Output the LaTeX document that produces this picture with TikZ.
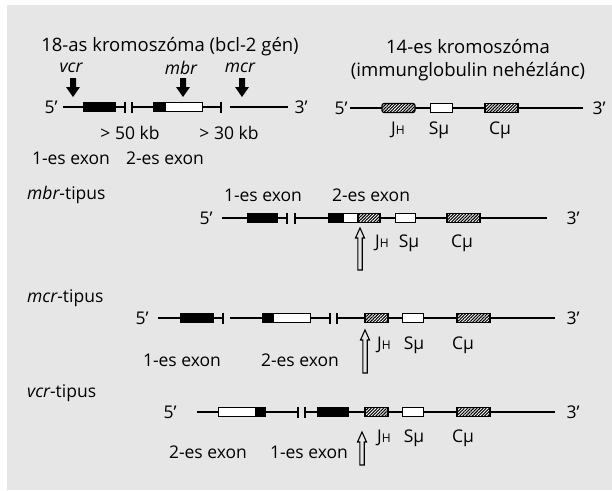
\documentclass[tikz,border=0pt]{standalone}
\usepackage{fontspec}
\setmainfont{Open Sans}
\usetikzlibrary{patterns.meta}
\definecolor{bggray}{HTML}{E6E6E6}
\tikzset{
  lbl/.style={inner sep=0pt, font=\fontsize{17.5}{20}\selectfont},
  ttl/.style={inner sep=0pt, font=\fontsize{18.5}{21}\selectfont},
  dna/.style={line width=2.3pt},
  thindna/.style={line width=1.4pt},
  tickst/.style={line width=1.4pt},
  blackex/.style={draw=black, fill=black, line width=1pt},
  whiteex/.style={draw=black, fill=white, line width=1pt},
  hatchex/.style={draw=black, line width=1.1pt, preaction={fill=white},
    pattern={Lines[angle=45,distance=2.2pt,line width=1.1pt]}},
  openarrow/.style={draw=black, fill=bggray, line width=1.1pt, line join=miter},
  blackarrow/.style={fill=black},
}
\newcommand\myexon[4]{\draw[#1] (#2,#4-4.5) rectangle (#3,#4+4.5);}
\newcommand\mytick[2]{\draw[tickst] (#1,#2-5.5) -- (#1,#2+5.5);}
\newcommand\myuparrow[3]{\draw[openarrow] (#1,#2) -- (#1+4.5,#2+10) -- (#1+2.2,#2+10) -- (#1+2.2,#3) -- (#1-2.2,#3) -- (#1-2.2,#2+10) -- (#1-4.5,#2+10) -- cycle;}
\newcommand\mydownarrow[2]{\fill[blackarrow] (#1-3,#2) -- (#1+3,#2) -- (#1+3,#2+9) -- (#1+7,#2+9) -- (#1,#2+19) -- (#1-7,#2+9) -- (#1-3,#2+9) -- cycle;}
\newcommand\JH{J{\fontsize{12}{13}\selectfont H}}
\begin{document}
\begin{tikzpicture}[x=1pt,y=-1pt]
\useasboundingbox (0,0) rectangle (612,490);
\fill[white] (0,0) rectangle (612,490);
\fill[bggray] (7,5) rectangle (612,490);

% ---------- chromosome 18 ----------
\node[ttl] (t18) at (170,47) {18-as kromoszóma (bcl-2 gén)};
\node[lbl] (lvcr) at (71,68) {\itshape vcr};
\node[lbl] (lmbr) at (181,68) {\itshape mbr};
\node[lbl] (lmcr) at (240,68) {\itshape mcr};
\mydownarrow{73}{78}
\mydownarrow{183}{78}
\mydownarrow{242}{78}
\node[lbl] (a5) at (51,107) {5’};
\node[lbl] (a3) at (301,107) {3’};
\draw[dna] (63,107) -- (125,107);
\myexon{blackex}{83}{115}{107}
\mytick{125}{107}
\mytick{132}{107}
\draw[dna] (132,107) -- (221,107);
\myexon{blackex}{153}{165}{107}
\myexon{whiteex}{165}{202}{107}
\mytick{221}{107}
\draw[line width=2.8pt] (230,107) -- (248,107);
\draw[thindna] (248,107) -- (280,107);
\draw[line width=2.8pt] (280,107) -- (288,107);
\node[lbl] (kb50) at (130,133) {> 50 kb};
\node[lbl] (kb30) at (229,133) {> 30 kb};
\node[lbl] (ex1a) at (71,158) {1-es exon};
\node[lbl] (ex2a) at (165,158) {2-es exon};

% ---------- chromosome 14 ----------
\node[ttl] (t14a) at (468,47) {14-es kromoszóma};
\node[ttl] (t14b) at (468,72) {(immunglobulin nehézlánc)};
\node[lbl] (b5) at (341,108) {5’};
\node[lbl] (b3) at (599,108) {3’};
\draw[thindna] (350,108) -- (500,108);
\draw[line width=2.8pt] (500,108) -- (583,108);
\draw[hatchex, rounded corners=2pt] (382,103.5) rectangle (415,112.5);
\myexon{whiteex}{430}{452}{108}
\myexon{hatchex}{485}{518}{108}
\node[lbl] (bJ) at (398,130) {\JH};
\node[lbl] (bS) at (439,130) {Sμ};
\node[lbl] (bC) at (500,130) {Cμ};

% ---------- mbr type ----------
\node[lbl, anchor=west] (tmbr) at (27,195) {\itshape mbr\upshape-tipus};
\node[lbl] (ex1b) at (263,195) {1-es exon};
\node[lbl] (ex2b) at (371,195) {2-es exon};
\node[lbl] (c5) at (206,218) {5’};
\node[lbl] (c3) at (573,218) {3’};
\draw[dna] (222,218) -- (287,218);
\myexon{blackex}{247}{277}{218}
\mytick{287}{218}
\mytick{295}{218}
\draw[dna] (295,218) -- (547,218);
\myexon{blackex}{328}{343}{218}
\myexon{whiteex}{343}{358}{218}
\myexon{hatchex}{358}{380}{218}
\myexon{whiteex}{395}{415}{218}
\myexon{hatchex}{447}{480}{218}
\myuparrow{360}{228}{270}
\node[lbl] (cJ) at (382,243) {\JH};
\node[lbl] (cS) at (409,243) {Sμ};
\node[lbl] (cC) at (462,243) {Cμ};

% ---------- mcr type ----------
\node[lbl, anchor=west] (tmcr) at (27,298) {\itshape mcr\upshape-tipus};
\node[lbl] (d5) at (142,318) {5’};
\node[lbl] (d3) at (573,318) {3’};
\draw[dna] (158,318) -- (223,318);
\myexon{blackex}{180}{213}{318}
\mytick{223}{318}
\draw[dna] (230,318) -- (330,318);
\myexon{blackex}{262}{273}{318}
\myexon{whiteex}{273}{310}{318}
\mytick{330}{318}
\mytick{337}{318}
\draw[dna] (337,318) -- (555,318);
\myexon{hatchex}{365}{388}{318}
\myexon{whiteex}{402}{423}{318}
\myexon{hatchex}{457}{490}{318}
\node[lbl] (ex1c) at (182,360) {1-es exon};
\node[lbl] (ex2c) at (300,360) {2-es exon};
\myuparrow{365}{330}{373}
\node[lbl] (dJ) at (384,345) {\JH};
\node[lbl] (dS) at (414,345) {Sμ};
\node[lbl] (dC) at (463,345) {Cμ};

% ---------- vcr type ----------
\node[lbl, anchor=west] (tvcr) at (27,393) {\itshape vcr\upshape-tipus};
\node[lbl] (e5) at (170,412) {5’};
\node[lbl] (e3) at (573,412) {3’};
\draw[dna] (197,412) -- (298,412);
\myexon{whiteex}{218}{255}{412}
\myexon{blackex}{255}{265}{412}
\mytick{298}{412}
\mytick{305}{412}
\draw[dna] (305,412) -- (555,412);
\myexon{blackex}{317}{348}{412}
\myexon{hatchex}{365}{388}{412}
\myexon{whiteex}{402}{423}{412}
\myexon{hatchex}{457}{490}{412}
\node[lbl] (ex2d) at (208,452) {2-es exon};
\node[lbl] (ex1d) at (309,452) {1-es exon};
\myuparrow{362}{432}{465}
\node[lbl] (eJ) at (384,438) {\JH};
\node[lbl] (eS) at (414,438) {Sμ};
\node[lbl] (eC) at (463,438) {Cμ};
\end{tikzpicture}
\end{document}
